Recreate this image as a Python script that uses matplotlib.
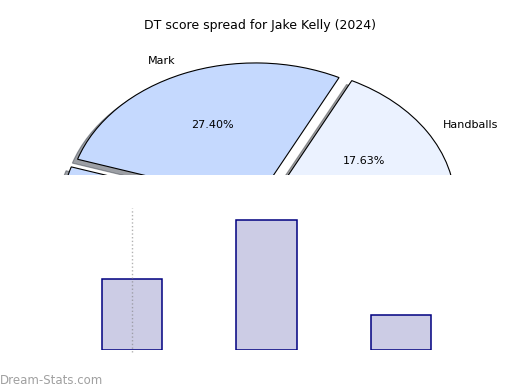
import matplotlib
matplotlib.use("Agg")
import matplotlib.pyplot as plt

# DT score share per stat (percent)
stat_names = ["Handballs", "Mark", "Tackle", "Kick"]
stat_share = [17.63, 27.40, 12.40, 42.57]
stat_colors = ["#ebf2ff", "#c5d9fe", "#c5d9fe", "#dbe7ff"]

# bottom panel bars (arbitrary units)
bar_pos = [0, 1, 2]
bar_values = [71, 130, 35]
marker_top = 142

W, H = 520, 390
fig = plt.figure(figsize=(W / 100, H / 100), dpi=100)

# pie panel: its lower edge cuts the pie
cx, cy = 259.5, 209.0     # pie centre in pixels (from top)
sx, sy = 187.0, 139.0     # pixels per data unit
x0, x1 = 10, 515
y_top, y_bot = 40, 175
ax = fig.add_axes([x0 / W, 1 - y_bot / H, (x1 - x0) / W, (y_bot - y_top) / H])
wedges, texts, autotexts = ax.pie(
    stat_share, labels=stat_names, colors=stat_colors, autopct="%1.2f%%",
    explode=[0.055] * len(stat_share), shadow=True, startangle=0,
    wedgeprops={"edgecolor": "black", "linewidth": 0.8},
    textprops={"fontsize": 8},
)
ax.set_aspect("auto")
ax.set_xlim((x0 - cx) / sx, (x1 - cx) / sx)
ax.set_ylim((cy - y_bot) / sy, (cy - y_top) / sy)
for p in ax.patches:
    p.set_clip_path(ax.patch)
    p.set_clip_on(True)
for t in texts + autotexts:
    t.set_clip_path(ax.patch)
    t.set_clip_on(True)

fig.text(0.5, 1 - 25 / H, "DT score spread for Jake Kelly (2024)",
         ha="center", va="center", fontsize=9)

# bar panel
bx = fig.add_axes([0.125, 1 - 350 / H, 0.775, 175 / H])
bx.bar(bar_pos, bar_values, width=0.45, color="navy", alpha=0.2)
bx.bar(bar_pos, bar_values, width=0.45, fill=False, edgecolor="navy", linewidth=1.1)
bx.plot([bar_pos[0], bar_pos[0]], [-2, marker_top], linestyle=":",
        color="gray", alpha=0.6, linewidth=1, clip_on=False)
bx.set_xlim(-0.5, 2.5)
bx.set_ylim(0, 175)
bx.axis("off")

fig.text(0.0, 1 - 380 / H, "Dream-Stats.com", ha="left", va="center",
         fontsize=8.5, color="#a0a0a0")

fig.savefig("out.png", dpi=100)
